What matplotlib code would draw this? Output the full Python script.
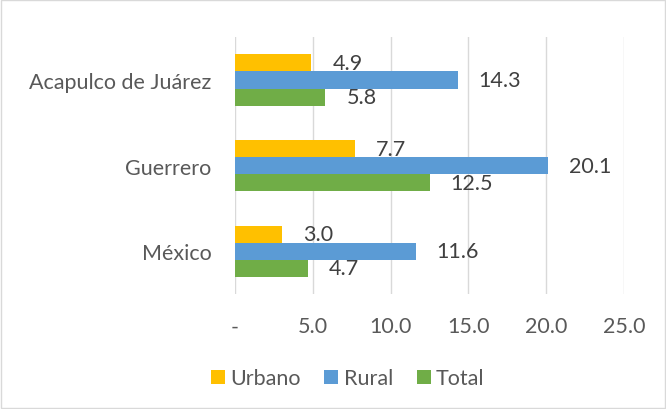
import numpy as np
import matplotlib.pyplot as plt
from matplotlib.patches import Rectangle

plt.rcParams['font.family'] = ['Lato', 'DejaVu Sans']

categories = ['México', 'Guerrero', 'Acapulco de Juárez']
series = ['Urbano', 'Rural', 'Total']
urbano = [3.0, 7.7, 4.9]
rural = [11.6, 20.1, 14.3]
total = [4.7, 12.5, 5.8]
colors = ['#FFC000', '#5B9BD5', '#70AD47']

fig = plt.figure(figsize=(6.66, 4.10), dpi=100)
ax = fig.add_axes([0.353, 0.28, 0.584, 0.627])
fig.patches.append(Rectangle((0.002, 0.002), 0.996, 0.996, transform=fig.transFigure,
                             fill=False, edgecolor='#D9D9D9', linewidth=1))

y = np.arange(len(categories))
h = 0.2
vals = [urbano, rural, total]
offsets = [h, 0, -h]
for v, off, c, name in zip(vals, offsets, colors, series):
    bars = ax.barh(y + off, v, height=h, color=c, label=name, zorder=3)
    for b, val in zip(bars, v):
        ax.text(val + 1.35, b.get_y() + h / 2, '%.1f' % val, va='center', ha='left',
                fontsize=15.5, color='#404040')

ax.set_xlim(0, 25)
ax.set_ylim(-0.5, 2.5)
ax.set_xticks([0, 5, 10, 15, 20, 25])
ax.set_xticklabels(['-', '5.0', '10.0', '15.0', '20.0', '25.0'])
ax.set_yticks(y)
ax.set_yticklabels(categories)
ax.tick_params(axis='both', length=0, labelsize=15.5, labelcolor='#595959')
ax.tick_params(axis='x', pad=16)
ax.tick_params(axis='y', pad=17)
ax.grid(axis='x', color='#D9D9D9', linewidth=1, zorder=0)
for s in ax.spines.values():
    s.set_visible(False)

leg = fig.legend(loc='center', bbox_to_anchor=(0.522, 0.075), ncol=3, frameon=False,
                 fontsize=15.5, handlelength=0.65, handleheight=0.65, handletextpad=0.25,
                 columnspacing=1.1)
for t in leg.get_texts():
    t.set_color('#595959')

fig.savefig('out.png', dpi=100)
